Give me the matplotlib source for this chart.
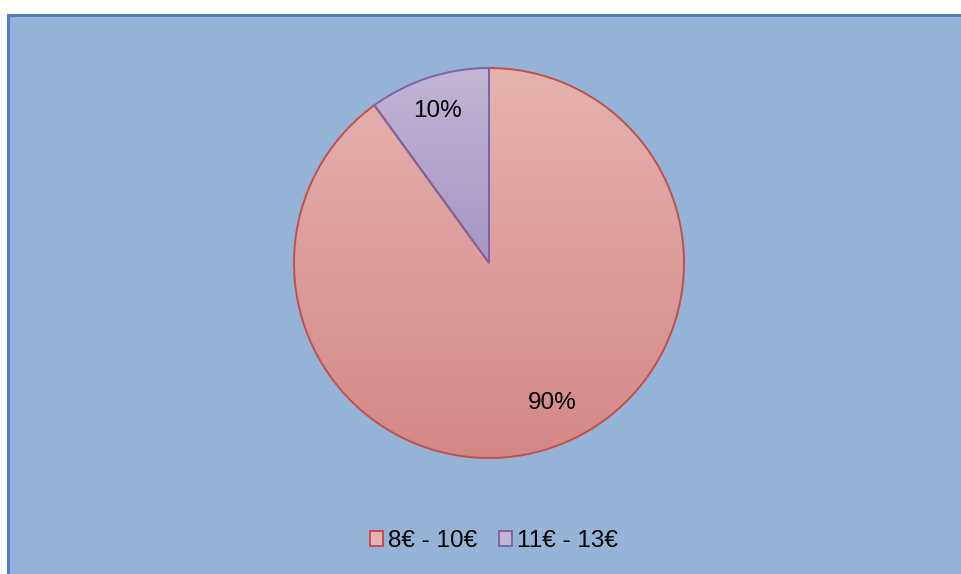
import matplotlib

matplotlib.use("Agg")
import matplotlib.pyplot as plt
import numpy as np
from matplotlib.colors import LinearSegmentedColormap
from matplotlib.patches import Rectangle

plt.rcParams["font.family"] = ["Liberation Sans", "DejaVu Sans"]

labels = ["8€ - 10€", "11€ - 13€"]
shares = [90, 10]
edge_colors = ["#c0504d", "#8064a2"]
# (top, bottom) of the vertical gradient in each slice
grad_colors = [("#e5b2b0", "#d48886"), ("#c2b5d6", "#a696c4")]
BG = "#95b3d7"

W, H, DPI = 961, 574, 100
fig = plt.figure(figsize=(W / DPI, H / DPI), dpi=DPI)
fig.patch.set_facecolor("white")

# chart area with its darker top/left border
bg_ax = fig.add_axes([8 / W, 0, 1 - 8 / W, 1 - 15 / H], zorder=0)
bg_ax.set_facecolor(BG)
bg_ax.set_xticks([])
bg_ax.set_yticks([])
for side in ("right", "bottom"):
    bg_ax.spines[side].set_visible(False)
for side in ("left", "top"):
    bg_ax.spines[side].set_color("#4f81bd")
    bg_ax.spines[side].set_linewidth(2.2)

cx, cy, r = 489, 263, 195
ax = fig.add_axes([(cx - r) / W, (H - cy - r) / H, 2 * r / W, 2 * r / H], zorder=2)
ax.axis("off")

wedges, texts = ax.pie(shares, startangle=90, counterclock=False, radius=1,
                       center=(0, 0), frame=False,
                       wedgeprops=dict(facecolor="none", linewidth=1.4))
for w, ec in zip(wedges, edge_colors):
    w.set_edgecolor(ec)
    w.set_zorder(3)

# gradient fill clipped to each wedge
for w, (top, bot) in zip(wedges, grad_colors):
    ys = np.linspace(1, 0, 256).reshape(-1, 1)
    cmap = LinearSegmentedColormap.from_list("g", [bot, top])
    bb = w.get_patch_transform().transform_path(w.get_path()).get_extents()
    im = ax.imshow(ys, cmap=cmap, vmin=0, vmax=1, aspect="auto",
                   extent=[-1, 1, bb.y0, bb.y1], origin="upper", zorder=1)
    im.set_clip_path(w)
ax.set_xlim(-1, 1)
ax.set_ylim(-1, 1)

ax.text(-0.265, 0.78, f"{shares[1]}%", ha="center", va="center", fontsize=17.5)
ax.text(0.325, -0.72, f"{shares[0]}%", ha="center", va="center", fontsize=17.5)

handles = [Rectangle((0, 0), 1, 1, facecolor=c[0], edgecolor=e, lw=1.4)
           for c, e in zip(grad_colors, edge_colors)]
fig.legend(handles, labels, loc="center", bbox_to_anchor=(494 / W, 1 - 541 / H),
           ncol=2, frameon=False, fontsize=17.5, handlelength=0.55, handleheight=0.55,
           handletextpad=0.2, columnspacing=0.9)

fig.savefig("out.png", dpi=DPI)
